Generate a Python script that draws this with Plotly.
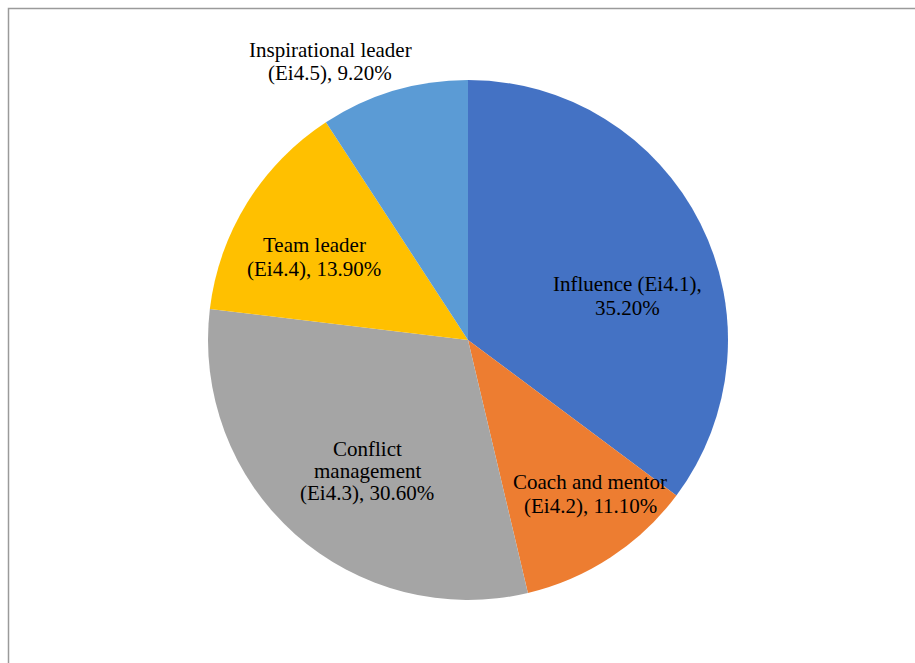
import plotly.graph_objects as go

categories = ["Influence (Ei4.1)", "Coach and mentor (Ei4.2)", "Conflict management (Ei4.3)",
              "Team leader (Ei4.4)", "Inspirational leader (Ei4.5)"]
values = [35.2, 11.1, 30.6, 13.9, 9.2]
label_lines = [["Influence (Ei4.1),", "35.20%"],
               ["Coach and mentor", "(Ei4.2), 11.10%"],
               ["Conflict", "management", "(Ei4.3), 30.60%"],
               ["Team leader", "(Ei4.4), 13.90%"],
               ["Inspirational leader", "(Ei4.5), 9.20%"]]
colors = ["#4472C4", "#ED7D31", "#A5A5A5", "#FFC000", "#5B9BD5"]

W, H = 915, 663
# label line centres in pixels (x, [y per line])
label_pos = [(627, [284, 308]), (590, [482, 506]), (367, [449, 471, 493]),
             (314, [245, 269]), (330, [50, 73])]

fig = go.Figure(go.Pie(
    labels=categories, values=values, sort=False, direction="clockwise", rotation=0,
    marker=dict(colors=colors, line=dict(color="white", width=0)),
    textinfo="none", hoverinfo="label+percent", showlegend=False,
    domain=dict(x=[208 / W, 728 / W], y=[1 - 600 / H, 1 - 80 / H]),
))

for lines, (px, ys) in zip(label_lines, label_pos):
    for txt, py in zip(lines, ys):
        fig.add_annotation(x=px / W, y=1 - py / H, xref="paper", yref="paper",
                           text=txt, showarrow=False, xanchor="center", yanchor="middle",
                           align="center",
                           font=dict(family="Liberation Serif", size=21, color="#000000"))

fig.add_shape(type="rect", xref="paper", yref="paper",
              x0=8.5 / W, x1=1.02, y0=-0.02, y1=1 - 8.5 / H,
              line=dict(color="#9a9a9a", width=1.5), fillcolor="rgba(0,0,0,0)")

fig.update_layout(width=W, height=H, margin=dict(l=0, r=0, t=0, b=0),
                  paper_bgcolor="white", plot_bgcolor="white")

fig.write_html("out.html")
